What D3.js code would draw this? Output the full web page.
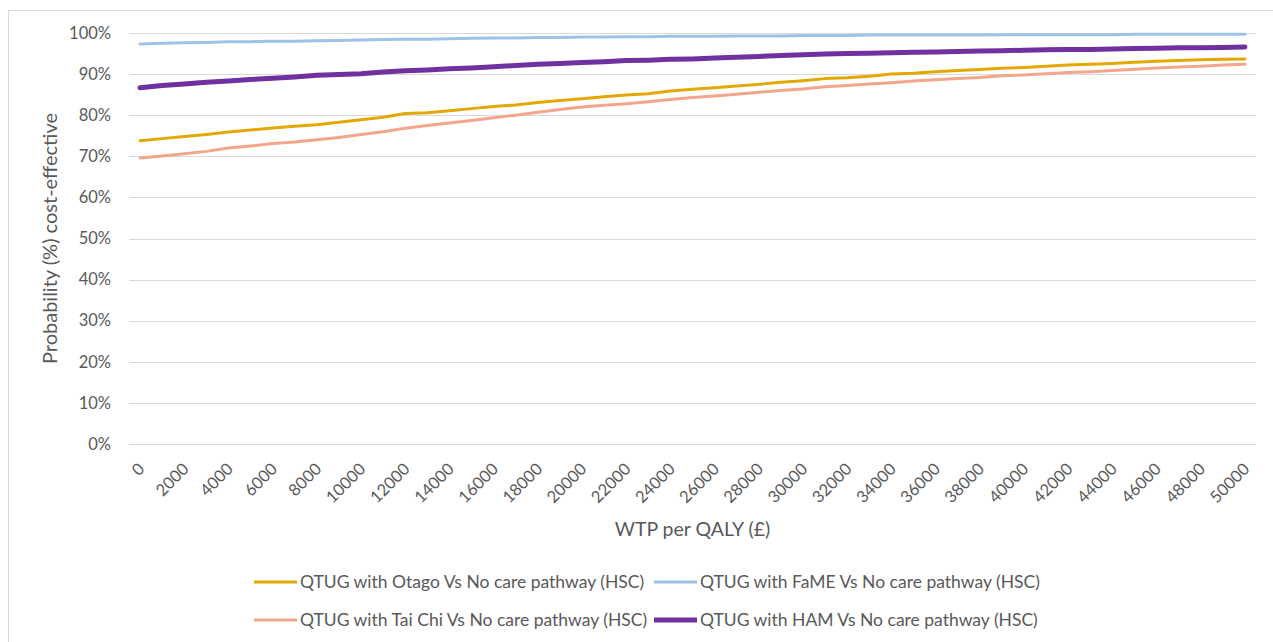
<!DOCTYPE html>
<html>
<head>
<meta charset="utf-8">
<script src="https://cdn.jsdelivr.net/npm/d3@7"></script>
<style>
  html, body { margin: 0; padding: 0; background: #fff; }
  svg { display: block; }
  text { font-family: Lato, "Open Sans", sans-serif; fill: #595959; }
</style>
</head>
<body>
<svg id="chart" width="1273" height="642"></svg>
<script>
// ---- data ----
const wtp = d3.range(0, 50001, 1000);
const tickLabels = d3.range(0, 50001, 2000).map(String);
const yTicks = [0, 10, 20, 30, 40, 50, 60, 70, 80, 90, 100];

const otago = [73.8, 74.3, 74.8, 75.3, 75.9, 76.4, 76.9, 77.3, 77.7, 78.3,
  78.9, 79.5, 80.4, 80.6, 81.1, 81.6, 82.1, 82.5, 83.1, 83.6,
  84.0, 84.5, 84.9, 85.2, 85.9, 86.3, 86.7, 87.1, 87.5, 88.0,
  88.4, 88.9, 89.1, 89.5, 90.0, 90.2, 90.6, 90.9, 91.1, 91.4,
  91.6, 91.9, 92.2, 92.4, 92.6, 92.9, 93.1, 93.3, 93.5, 93.6, 93.7];
const fame = [97.3, 97.5, 97.6, 97.7, 97.9, 97.9, 98.0, 98.0, 98.1, 98.2,
  98.3, 98.4, 98.5, 98.5, 98.6, 98.7, 98.8, 98.8, 98.9, 98.9,
  99.0, 99.0, 99.1, 99.1, 99.2, 99.2, 99.2, 99.3, 99.3, 99.3,
  99.4, 99.4, 99.4, 99.5, 99.5, 99.5, 99.5, 99.5, 99.5, 99.6,
  99.6, 99.6, 99.6, 99.6, 99.6, 99.7, 99.7, 99.7, 99.7, 99.7, 99.7];
const taichi = [69.6, 70.1, 70.6, 71.2, 72.0, 72.5, 73.1, 73.5, 74.0, 74.6,
  75.3, 76.0, 76.8, 77.5, 78.1, 78.7, 79.4, 80.0, 80.7, 81.4,
  82.0, 82.4, 82.8, 83.3, 83.8, 84.3, 84.7, 85.1, 85.6, 86.0,
  86.4, 86.9, 87.2, 87.6, 87.9, 88.3, 88.6, 88.9, 89.2, 89.6,
  89.8, 90.1, 90.4, 90.6, 90.9, 91.2, 91.5, 91.7, 91.9, 92.2, 92.4];
const ham = [86.7, 87.2, 87.6, 88.0, 88.3, 88.7, 89.0, 89.3, 89.7, 89.9,
  90.1, 90.5, 90.8, 91.0, 91.3, 91.5, 91.8, 92.1, 92.4, 92.6,
  92.8, 93.0, 93.3, 93.4, 93.6, 93.7, 93.9, 94.1, 94.3, 94.5,
  94.7, 94.9, 95.0, 95.1, 95.2, 95.3, 95.4, 95.5, 95.6, 95.7,
  95.8, 95.9, 96.0, 96.0, 96.1, 96.2, 96.3, 96.4, 96.4, 96.5, 96.6];

const seriesNames = [
  "QTUG with Otago Vs No care pathway (HSC)",
  "QTUG with FaME Vs No care pathway (HSC)",
  "QTUG with Tai Chi Vs No care pathway (HSC)",
  "QTUG with HAM Vs No care pathway (HSC)"
];
const seriesValues = [otago, fame, taichi, ham];
const seriesColors = ["#E3A800", "#9DC3E6", "#F4A68C", "#7030A0"];
const seriesWidths = [3, 3, 3, 5];

// ---- layout ----
const svg = d3.select("#chart");
const plot = { left: 129, right: 1256, top: 33, bottom: 444 };

svg.append("rect")
  .attr("x", 8.5).attr("y", 10.5).attr("width", 1280).attr("height", 660)
  .attr("fill", "none").attr("stroke", "#d9d9d9").attr("stroke-width", 1);

const x = d3.scalePoint().domain(wtp).range([plot.left, plot.right]).padding(0.5);
const y = d3.scaleLinear().domain([0, 100]).range([plot.bottom, plot.top]);

// gridlines
svg.append("g").selectAll("line").data(yTicks).join("line")
  .attr("x1", plot.left).attr("x2", plot.right)
  .attr("y1", d => Math.round(y(d)) + 0.5).attr("y2", d => Math.round(y(d)) + 0.5)
  .attr("stroke", "#d9d9d9").attr("stroke-width", 1);

// y axis labels
const yAxis = d3.axisLeft(y).tickValues(yTicks).tickFormat(d => d + "%").tickSize(0).tickPadding(0);
const gy = svg.append("g").attr("transform", `translate(${plot.left - 18},0)`).call(yAxis);
gy.select(".domain").remove();
gy.selectAll("text").style("font-size", "16.5px").attr("fill", "#595959")
  .style("font-family", "Lato, sans-serif");

// x axis labels
const xAxis = d3.axisBottom(x)
  .tickValues(wtp.filter(v => tickLabels.includes(String(v))))
  .tickFormat(d => String(d)).tickSize(0).tickPadding(0);
const gx = svg.append("g").attr("transform", `translate(0,${plot.bottom})`).call(xAxis);
gx.select(".domain").remove();
gx.selectAll("text")
  .style("font-size", "16.5px").style("font-family", "Lato, sans-serif").attr("fill", "#595959")
  .attr("text-anchor", "end")
  .attr("dy", "0.35em")
  .attr("y", 0)
  .attr("transform", "translate(1,22) rotate(-45)");

// axis titles
svg.append("text")
  .attr("transform", `translate(50,${(plot.top + plot.bottom) / 2}) rotate(-90)`)
  .attr("text-anchor", "middle").attr("dy", "0.35em")
  .style("font-size", "20px")
  .text("Probability (%) cost-effective");

svg.append("text")
  .attr("x", (plot.left + plot.right) / 2).attr("y", 529)
  .attr("text-anchor", "middle").attr("dy", "0.35em")
  .style("font-size", "19.5px")
  .text("WTP per QALY (£)");

// lines
const line = d3.line().x((d, i) => x(wtp[i])).y(d => y(d));
seriesValues.forEach((vals, k) => {
  svg.append("path").datum(vals)
    .attr("d", line)
    .attr("fill", "none")
    .attr("stroke", seriesColors[k])
    .attr("stroke-width", seriesWidths[k])
    .attr("stroke-linejoin", "round")
    .attr("stroke-linecap", "round");
});

// legend
const legendPos = [[254, 582], [654, 582], [254, 620], [654, 620]];
seriesNames.forEach((name, k) => {
  const [lx, ly] = legendPos[k];
  const g = svg.append("g").attr("transform", `translate(${lx},${ly})`);
  g.append("line").attr("x1", 0).attr("x2", 43).attr("y1", 0).attr("y2", 0)
    .attr("stroke", seriesColors[k]).attr("stroke-width", seriesWidths[k]);
  g.append("text").attr("x", 46).attr("y", 0).attr("dy", "0.35em")
    .style("font-size", "17.5px").text(name);
});
</script>
</body>
</html>
